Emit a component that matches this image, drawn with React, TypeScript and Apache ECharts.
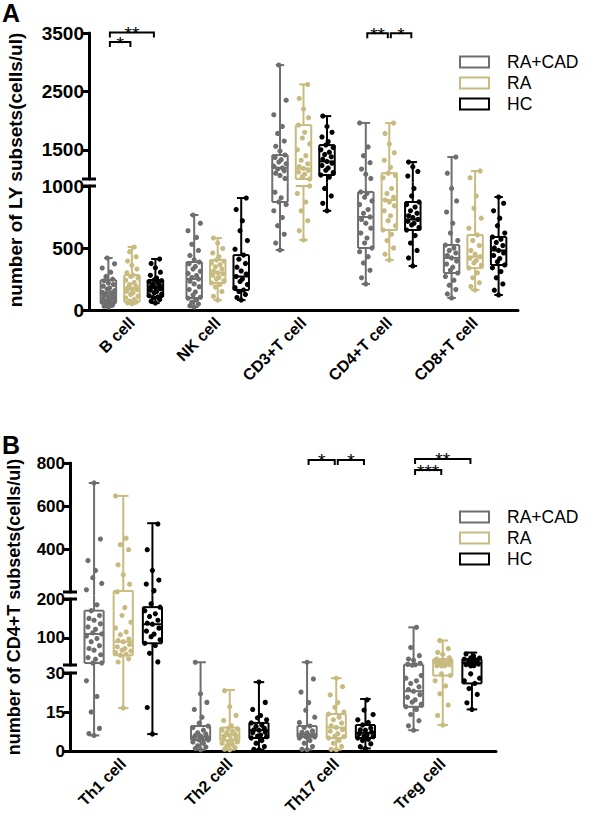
import React, { useEffect, useRef } from 'react';
import * as echarts from 'echarts';

const FONT = "'Liberation Sans', Arial, Helvetica, sans-serif";

// ---------- data ----------
const groupNames = ['RA+CAD', 'RA', 'HC'];
const groupColors = ['#6e6e6e', '#c8bb80', '#000000'];

const lyCategories = ['B cell', 'NK cell', 'CD3+T cell', 'CD4+T cell', 'CD8+T cell'];
const cd4Categories = ['Th1 cell', 'Th2 cell', 'Th17 cell', 'Treg cell'];

// tick labels per axis segment
const lyTicksLow = [0, 500, 1000];
const lyTicksHigh = [1500, 2500, 3500];
const cd4TicksLow = [0, 15, 30];
const cd4TicksMid = [100, 200];
const cd4TicksHigh = [400, 600, 800];

// box stats: [min, q1, median, q3, max] per category
const lyBoxRaCad = [
  [24, 65, 140, 242, 419],
  [24, 97, 250, 387, 766],
  [484, 871, 1190, 1410, 2950],
  [210, 500, 750, 952, 1960],
  [97, 298, 420, 524, 1376],
];
const lyBoxRa = [
  [50, 65, 170, 282, 508],
  [80, 218, 300, 403, 580],
  [565, 1000, 1180, 1923, 2620],
  [403, 645, 887, 1100, 1957],
  [161, 338, 430, 605, 1137],
];
const lyBoxHc = [
  [56, 105, 180, 242, 411],
  [80, 161, 270, 443, 903],
  [800, 1068, 1300, 1581, 2077],
  [355, 645, 730, 871, 1290],
  [121, 363, 480, 589, 911],
];

const cd4BoxRaCad = [
  [6, 35, 110, 170, 707],
  [0.5, 4.2, 5.5, 9.6, 37],
  [0.5, 5.4, 6.5, 9.6, 37],
  [8, 17, 23, 31, 127],
];
const cd4BoxRa = [
  [16.5, 55, 90, 205, 647],
  [0.5, 4, 6, 9, 23.5],
  [0.5, 5, 9, 14.2, 28],
  [10, 29, 35, 45, 93],
];
const cd4BoxHc = [
  [6.5, 86, 135, 179, 520],
  [0.5, 5, 8, 10.8, 26.5],
  [1, 5, 7, 10, 20],
  [16, 26, 35, 45, 62],
];

// individual points per category
const lyPtsRaCad = [
  [24, 31, 40, 44, 58, 63, 66, 72, 81, 88, 97, 104, 118, 122, 131, 139, 143, 156, 168, 177, 192, 205, 218, 236, 248, 271, 305, 338, 372, 419],
  [24, 35, 48, 62, 80, 95, 102, 120, 146, 165, 188, 210, 232, 250, 262, 278, 295, 312, 330, 351, 372, 387, 405, 440, 480, 530, 585, 640, 700, 766],
  [484, 540, 610, 680, 745, 800, 850, 871, 905, 950, 1010, 1060, 1100, 1140, 1170, 1190, 1220, 1260, 1290, 1330, 1370, 1410, 1480, 1560, 1650, 1780, 1900, 2100, 2350, 2950],
  [210, 260, 320, 380, 430, 470, 500, 540, 580, 620, 660, 700, 730, 750, 780, 810, 850, 880, 910, 940, 952, 1010, 1080, 1170, 1280, 1400, 1550, 1960],
  [97, 130, 165, 200, 240, 270, 298, 320, 345, 370, 395, 420, 440, 460, 480, 500, 524, 560, 620, 700, 790, 880, 980, 1100, 1376],
];
const lyPtsRa = [
  [50, 58, 65, 72, 85, 98, 110, 125, 140, 152, 165, 170, 178, 190, 205, 222, 240, 258, 270, 282, 300, 330, 360, 395, 430, 470, 508],
  [80, 110, 150, 185, 205, 218, 235, 250, 262, 280, 292, 300, 312, 330, 348, 365, 380, 395, 403, 430, 460, 495, 540, 580],
  [565, 640, 720, 800, 870, 940, 1000, 1040, 1080, 1120, 1150, 1180, 1210, 1260, 1320, 1400, 1500, 1600, 1700, 1800, 1923, 2050, 2200, 2380, 2620],
  [403, 450, 500, 560, 610, 645, 680, 720, 760, 800, 840, 870, 887, 910, 940, 980, 1020, 1060, 1100, 1200, 1320, 1450, 1600, 1780, 1957],
  [161, 190, 220, 260, 300, 338, 360, 380, 400, 418, 430, 450, 480, 520, 560, 605, 660, 740, 820, 920, 1020, 1137],
];
const lyPtsHc = [
  [56, 70, 85, 100, 105, 115, 128, 140, 150, 160, 172, 180, 190, 198, 208, 218, 228, 236, 242, 258, 280, 305, 340, 375, 411],
  [80, 100, 125, 150, 161, 180, 205, 230, 250, 270, 290, 315, 345, 375, 410, 443, 490, 560, 640, 720, 810, 903],
  [800, 860, 920, 980, 1030, 1068, 1110, 1150, 1190, 1230, 1270, 1300, 1340, 1380, 1420, 1460, 1500, 1540, 1581, 1640, 1720, 1800, 1900, 2077],
  [355, 420, 480, 540, 600, 645, 665, 685, 700, 715, 730, 745, 760, 780, 800, 830, 850, 871, 920, 980, 1050, 1130, 1210, 1290],
  [121, 160, 210, 260, 310, 340, 363, 390, 415, 440, 460, 480, 500, 520, 545, 570, 589, 620, 680, 740, 800, 860, 911],
];

const cd4PtsRaCad = [
  [6, 7, 9, 15, 21, 27, 35, 38, 45, 52, 60, 68, 75, 82, 90, 98, 105, 110, 115, 122, 130, 138, 145, 152, 160, 170, 185, 210, 240, 270, 300, 350, 450, 707],
  [0.5, 1, 1.5, 2, 3, 3.5, 4.2, 4.5, 5, 5.2, 5.5, 5.8, 6, 6.5, 7, 8, 9, 9.6, 11, 13, 16, 19, 22, 37],
  [0.5, 1, 2, 3, 4, 5, 5.4, 5.8, 6, 6.3, 6.5, 7, 7.5, 8, 9, 9.6, 11, 13, 16, 19, 23, 28, 37],
  [8, 10, 12, 14, 16, 17, 18, 19, 20, 21, 22, 23, 24, 25, 26, 27, 28, 29, 31, 33, 35, 38, 42, 48, 58, 75, 127],
];
const cd4PtsRa = [
  [16.5, 40, 48, 55, 58, 62, 66, 70, 75, 80, 85, 90, 95, 100, 108, 115, 125, 140, 160, 180, 205, 240, 280, 330, 400, 420, 450, 647],
  [0.5, 1, 1.5, 2, 2.5, 3, 3.5, 4, 4.5, 5, 5.5, 6, 6.2, 6.8, 7, 7.5, 8, 8.5, 9, 10, 12, 14, 17, 23.5],
  [0.5, 1, 2, 3, 4, 5, 5.5, 6, 7, 8, 8.5, 9, 10, 11, 12, 13, 14.2, 15, 17, 19, 22, 25, 28],
  [10, 14, 18, 22, 25, 27, 29, 30, 31, 32, 33, 34, 35, 36, 37, 38, 40, 42, 44, 45, 48, 52, 58, 65, 75, 93],
];
const cd4PtsHc = [
  [6.5, 17, 40, 60, 80, 86, 95, 105, 112, 120, 128, 135, 140, 148, 155, 162, 170, 179, 190, 210, 240, 260, 300, 400, 520],
  [0.5, 1, 2, 3, 4, 5, 5.5, 6, 6.5, 7, 7.5, 8, 8.5, 9, 9.5, 10, 10.8, 12, 13, 14, 16, 19, 26.5],
  [1, 2, 3, 4, 4.5, 5, 5.5, 6, 6.5, 7, 7.5, 8, 8.5, 9, 10, 11, 12, 14, 16, 20],
  [16, 19, 22, 24, 26, 27, 28, 30, 32, 34, 35, 36, 38, 40, 42, 44, 45, 48, 52, 56, 62],
];

// significance brackets: category, from group, to group, value level, label
const lyBrackets = [
  { cat: 0, from: 0, to: 2, value: 3510, label: '**' },
  { cat: 0, from: 0, to: 1, value: 3345, label: '*' },
  { cat: 3, from: 0, to: 1, value: 3495, label: '**' },
  { cat: 3, from: 1, to: 2, value: 3495, label: '*' },
];
const cd4Brackets = [
  { cat: 2, from: 0, to: 1, value: 814, label: '*' },
  { cat: 2, from: 1, to: 2, value: 814, label: '*' },
  { cat: 3, from: 0, to: 2, value: 819, label: '**' },
  { cat: 3, from: 0, to: 1, value: 767, label: '***' },
];

// ---------- layout ----------
const OFFSET = 0.274; // group offset as fraction of band
const BOXW = 0.18; // box width as fraction of band
const JITTER = [0, -0.55, 0.55, -0.3, 0.3, -0.8, 0.8, -0.15, 0.15, -0.65, 0.65];

const panels = [
  {
    letter: 'A',
    yName: 'number of LY subsets(cells/ul)',
    nameX: 15, nameY: 170, nameSize: 19,
    letterY: 0,
    categories: lyCategories,
    boxes: [lyBoxRaCad, lyBoxRa, lyBoxHc],
    points: [lyPtsRaCad, lyPtsRa, lyPtsHc],
    brackets: lyBrackets,
    left: 89, width: 429,
    tickSize: 19, catSize: 16,
    legendTop: 53,
    segs: [
      { min: 0, max: 1000, top: 186, height: 124, ticks: lyTicksLow },
      { min: 1000, max: 3500, top: 33, height: 146, ticks: lyTicksHigh },
    ],
  },
  {
    letter: 'B',
    yName: 'number of CD4+T subsets(cells/ul)',
    nameX: 14, nameY: 607, nameSize: 18,
    letterY: 432,
    categories: cd4Categories,
    boxes: [cd4BoxRaCad, cd4BoxRa, cd4BoxHc],
    points: [cd4PtsRaCad, cd4PtsRa, cd4PtsHc],
    brackets: cd4Brackets,
    left: 70, width: 426,
    tickSize: 17, catSize: 16,
    legendTop: 508,
    segs: [
      { min: 0, max: 30, top: 673, height: 78, ticks: cd4TicksLow },
      { min: 30, max: 200, top: 599, height: 66, ticks: cd4TicksMid },
      { min: 200, max: 800, top: 463, height: 129, ticks: cd4TicksHigh },
    ],
  },
];

function buildOption() {
  const grid: any[] = [];
  const xAxis: any[] = [];
  const yAxis: any[] = [];
  const series: any[] = [];
  const graphic: any[] = [];
  const legend: any[] = [];
  let gi = 0;

  panels.forEach((p) => {
    let topGi = 0;
    p.segs.forEach((s, si) => {
      const upperSeg = p.segs[si + 1];
      const lowerSeg = p.segs[si - 1];
      const extUp = upperSeg ? (s.top - (upperSeg.top + upperSeg.height)) / 2 : 0;
      const extDown = lowerSeg ? (lowerSeg.top - (s.top + s.height)) / 2 : 0;
      const lo = s.min;
      const hi = s.max;

      grid.push({ left: p.left, width: p.width, top: s.top, height: s.height });
      xAxis.push({
        gridIndex: gi,
        type: 'category',
        data: p.categories,
        show: si === 0,
        axisLine: { lineStyle: { color: '#000', width: 3 } },
        axisTick: { alignWithLabel: true, length: 7, lineStyle: { color: '#000', width: 3 } },
        axisLabel: {
          rotate: 45, interval: 0, fontSize: p.catSize, fontWeight: 'bold',
          color: '#000', fontFamily: FONT, margin: 10,
        },
        splitLine: { show: false },
      });
      yAxis.push({
        gridIndex: gi,
        type: 'value',
        min: s.min,
        max: s.max,
        axisLine: { show: true, lineStyle: { color: '#000', width: 3 } },
        axisTick: { show: true, length: 6, lineStyle: { color: '#000', width: 3 }, customValues: s.ticks },
        axisLabel: {
          customValues: s.ticks, fontSize: p.tickSize, fontWeight: 'bold',
          color: '#000', fontFamily: FONT, margin: 5,
          formatter: (v: number) => String(v),
        },
        splitLine: { show: false },
      });

      for (let g = 0; g < 3; g++) {
        const color = groupColors[g];
        series.push({
          type: 'custom',
          name: groupNames[g],
          xAxisIndex: gi,
          yAxisIndex: gi,
          clip: false,
          silent: true,
          z: 2,
          itemStyle: { color },
          data: p.boxes[g].map((b, i) => [i, ...b]),
          encode: { x: 0, y: [1, 2, 3, 4, 5] },
          renderItem: (params: any, api: any) => {
            const cat = api.value(0);
            const band = api.size([1, 0])[0];
            const c = api.coord([cat, lo])[0] + (g - 1) * band * OFFSET;
            const hw = (band * BOXW) / 2;
            const cap = hw * 0.55;
            const Y = (v: number) => api.coord([cat, v])[1];
            const vMin = api.value(1), vQ1 = api.value(2), vMed = api.value(3), vQ3 = api.value(4), vMax = api.value(5);
            const st = { stroke: color, lineWidth: 2 };
            const children: any[] = [];
            const vseg = (a: number, b: number, x: number) => {
              const a2 = Math.max(a, lo);
              const b2 = Math.min(b, hi);
              if (a2 >= b2) return;
              let y1 = Y(a2);
              let y2 = Y(b2);
              if (a < lo) y1 += extDown;
              if (b > hi) y2 -= extUp;
              children.push({ type: 'line', shape: { x1: x, y1, x2: x, y2 }, style: st });
            };
            const hline = (v: number, w: number) => {
              if (v < lo || v > hi) return;
              const yy = Y(v);
              children.push({ type: 'line', shape: { x1: c - w, y1: yy, x2: c + w, y2: yy }, style: st });
            };
            vseg(vMin, vQ1, c);
            vseg(vQ3, vMax, c);
            vseg(vQ1, vQ3, c - hw);
            vseg(vQ1, vQ3, c + hw);
            hline(vQ1, hw);
            hline(vQ3, hw);
            hline(vMed, hw);
            hline(vMin, cap);
            hline(vMax, cap);
            return { type: 'group', children };
          },
        });

        const pts: number[][] = [];
        p.points[g].forEach((arr, ci) =>
          arr.forEach((v, k) => {
            if (v >= lo && v <= hi) pts.push([ci, v, k]);
          })
        );
        series.push({
          type: 'custom',
          name: groupNames[g],
          xAxisIndex: gi,
          yAxisIndex: gi,
          clip: false,
          silent: true,
          z: 3,
          itemStyle: { color },
          data: pts,
          encode: { x: 0, y: 1 },
          renderItem: (params: any, api: any) => {
            const cat = api.value(0);
            const v = api.value(1);
            const k = api.value(2);
            const band = api.size([1, 0])[0];
            const hw = (band * BOXW) / 2;
            const pt = api.coord([cat, v]);
            const x = pt[0] + (g - 1) * band * OFFSET + JITTER[k % JITTER.length] * hw;
            return { type: 'circle', shape: { cx: x, cy: pt[1], r: 2.6 }, style: { fill: color } };
          },
        });
      }
      topGi = gi;
      gi++;
    });

    // significance brackets in the top segment
    const br = p.brackets;
    series.push({
      type: 'custom',
      name: 'sig-' + p.letter,
      xAxisIndex: topGi,
      yAxisIndex: topGi,
      clip: false,
      silent: true,
      z: 4,
      itemStyle: { color: '#000' },
      data: br.map((b) => [b.cat, b.value]),
      encode: { x: 0, y: 1 },
      renderItem: (params: any, api: any) => {
        const b = br[params.dataIndex];
        const band = api.size([1, 0])[0];
        const pt = api.coord([api.value(0), api.value(1)]);
        const x1 = pt[0] + (b.from - 1) * band * OFFSET + 1.5;
        const x2 = pt[0] + (b.to - 1) * band * OFFSET - 1.5;
        const yy = pt[1];
        return {
          type: 'group',
          children: [
            {
              type: 'polyline',
              shape: { points: [[x1, yy + 5], [x1, yy], [x2, yy], [x2, yy + 5]] },
              style: { stroke: '#000', lineWidth: 2, fill: null },
            },
            {
              type: 'text',
              style: {
                text: b.label, x: (x1 + x2) / 2, y: yy + 1,
                align: 'center', verticalAlign: 'middle', lineHeight: 9,
                fontSize: 19, fontFamily: FONT, fill: '#000',
              },
            },
          ],
        };
      },
    });

    // break marks between segments
    for (let si = 1; si < p.segs.length; si++) {
      const lower = p.segs[si - 1];
      const upper = p.segs[si];
      [upper.top + upper.height, lower.top].forEach((yy) => {
        graphic.push({
          type: 'line',
          shape: { x1: p.left - 7, y1: yy, x2: p.left + 7, y2: yy },
          style: { stroke: '#000', lineWidth: 3 },
        });
      });
    }

    graphic.push({
      type: 'text',
      x: 2,
      y: p.letterY,
      style: { text: p.letter, fontSize: 25, fontWeight: 'bold', fontFamily: FONT, fill: '#000' },
    });
    graphic.push({
      type: 'text',
      x: p.nameX,
      y: p.nameY,
      rotation: Math.PI / 2,
      style: {
        text: p.yName, fontSize: p.nameSize, fontWeight: 'bold', fontFamily: FONT,
        fill: '#000', align: 'center', verticalAlign: 'middle',
      },
    });

    legend.push({
      orient: 'vertical',
      left: 459,
      top: p.legendTop,
      itemWidth: 29,
      itemHeight: 11,
      itemGap: 3,
      padding: 0,
      selectedMode: false,
      textStyle: {
        fontSize: 17.5, fontFamily: FONT, color: '#000',
        padding: [0, 0, 0, 13],
      },
      data: groupNames.map((n, i) => ({
        name: n,
        icon: 'rect',
        itemStyle: { color: 'rgba(255,255,255,0)', borderColor: groupColors[i], borderWidth: 2 },
      })),
    });
  });

  return {
    animation: false,
    backgroundColor: '#ffffff',
    grid,
    xAxis,
    yAxis,
    series,
    graphic,
    legend,
  };
}

export default function App() {
  const ref = useRef<HTMLDivElement>(null);
  useEffect(() => {
    if (!ref.current) return;
    const chart = echarts.init(ref.current, undefined, { renderer: 'svg' });
    chart.setOption(buildOption() as any);
    return () => chart.dispose();
  }, []);
  return (
    <div
      ref={ref}
      style={{ position: 'absolute', left: 0, top: 0, width: 597, height: 832, background: '#fff' }}
    />
  );
}
